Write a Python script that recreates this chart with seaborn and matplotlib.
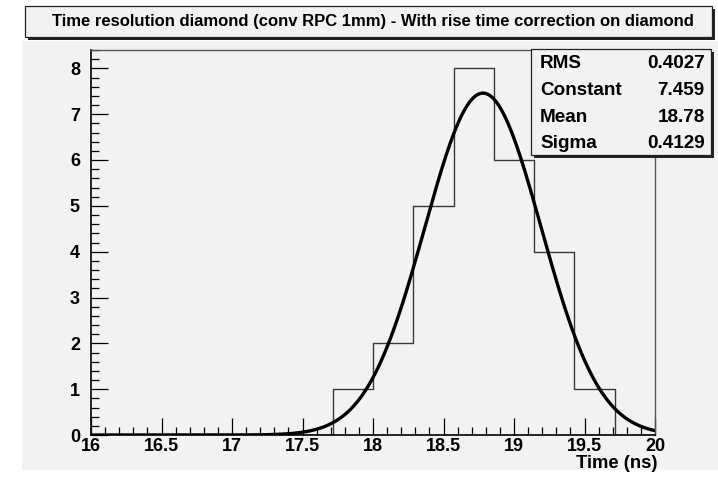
import numpy as np
import pandas as pd
import seaborn as sns
import matplotlib.pyplot as plt
from matplotlib.patches import Rectangle
from matplotlib.ticker import MultipleLocator

# ---------------------------------------------------------------
# datos leidos del histograma (14 bins entre 16 y 20 ns)
# ---------------------------------------------------------------
n_bins = 14
x_range = (16, 20)
bin_counts = [0, 0, 0, 0, 0, 0, 1, 2, 5, 8, 6, 4, 1, 0]

# parametros del ajuste gaussiano (caja de estadisticas)
stat_names = ['RMS', 'Constant', 'Mean', 'Sigma']
stat_values = ['0.4027', '7.459', '18.78', '0.4129']
fit_const = 7.459
fit_mean = 18.78
fit_sigma = 0.4129

titulo = 'Time resolution diamond (conv RPC 1mm) - With rise time correction on diamond'
xlabel = 'Time (ns)'

sns.set_style('ticks')
plt.rcParams['font.family'] = ['Liberation Sans', 'DejaVu Sans']
plt.rcParams['font.weight'] = 'bold'
plt.rcParams['text.color'] = 'black'
plt.rcParams['xtick.color'] = 'black'
plt.rcParams['ytick.color'] = 'black'

W, H = 718, 482
fig = plt.figure(figsize=(W / 100, H / 100), dpi=100)
fig.patch.set_facecolor('white')

def px(x0, y0, x1, y1):
    # rectangulo en pixeles -> coordenadas de figura
    return (x0 / W, 1 - y1 / H, (x1 - x0) / W, (y1 - y0) / H)

def caja(x0, y0, x1, y1, sombra=3):
    r = px(x0 + sombra, y0 + sombra, x1 + sombra, y1 + sombra)
    fig.patches.append(Rectangle(r[:2], r[2], r[3], transform=fig.transFigure,
                                 facecolor='#222222', edgecolor='none', zorder=5))
    r = px(x0, y0, x1, y1)
    fig.patches.append(Rectangle(r[:2], r[2], r[3], transform=fig.transFigure,
                                 facecolor='#f2f2f2', edgecolor='#222222',
                                 linewidth=0.9, zorder=6))

# fondo gris del pad
r = px(22, 41, 718, 470)
fig.patches.append(Rectangle(r[:2], r[2], r[3], transform=fig.transFigure,
                             facecolor='#f2f2f2', edgecolor='none', zorder=-5))

ax = fig.add_axes(px(91, 50, 655, 435))
ax.set_facecolor('#f2f2f2')

edges = np.linspace(x_range[0], x_range[1], n_bins + 1)
centros = (edges[:-1] + edges[1:]) / 2
df = pd.DataFrame({'t': centros, 'n': np.array(bin_counts, dtype=float)})
sns.histplot(data=df, x='t', weights='n', bins=n_bins, binrange=x_range,
             element='step', fill=False, color='#3a3a3a', linewidth=1.0, ax=ax)

xs = np.linspace(16, 20, 400)
curva = pd.DataFrame({'t': xs,
                      'f': fit_const * np.exp(-0.5 * ((xs - fit_mean) / fit_sigma) ** 2)})
sns.lineplot(data=curva, x='t', y='f', color='black', linewidth=2.4, ax=ax)

ax.set_xlim(16, 20)
ax.set_ylim(0, 8.4)
ax.set_xlabel('')
ax.set_ylabel('')
ax.xaxis.set_minor_locator(MultipleLocator(0.1))
ax.yaxis.set_major_locator(MultipleLocator(1))
ax.yaxis.set_minor_locator(MultipleLocator(0.2))
ax.set_xticks(np.arange(16, 20.01, 0.5))
ax.set_xticklabels(['16', '16.5', '17', '17.5', '18', '18.5', '19', '19.5', '20'])
ax.tick_params(which='major', direction='in', length=12, width=0.9, color='black',
               labelsize=13, labelcolor='black')
ax.tick_params(which='minor', direction='in', length=6, width=0.9, color='black')
ax.tick_params(axis='x', which='both', pad=2)
ax.tick_params(axis='y', which='both', pad=8)
for lab in ax.get_xticklabels() + ax.get_yticklabels():
    lab.set_fontweight('bold')

for lado in ['left', 'bottom']:
    ax.spines[lado].set_color('black')
    ax.spines[lado].set_linewidth(1.2)
for lado in ['right', 'top']:
    ax.spines[lado].set_visible(True)
    ax.spines[lado].set_color('#555555')
    ax.spines[lado].set_linewidth(1.0)

fig.text(658 / W, 1 - 464 / H, xlabel, ha='right', va='center',
         fontsize=13.3, fontweight='bold')

# caja del titulo con sombra
x0, y0, x1, y1 = 25, 6, 712, 37
caja(x0, y0, x1, y1)
fig.text(373 / W, 1 - (y0 + y1) / 2 / H, titulo, ha='center', va='center',
         fontsize=12, fontweight='bold', zorder=7)

# caja de estadisticas
caja(531, 49, 711, 155)
for i, (nombre, valor) in enumerate(zip(stat_names, stat_values)):
    yy = 1 - (64 + i * 26.5) / H
    fig.text(540 / W, yy, nombre, ha='left', va='center', fontsize=13.6,
             fontweight='bold', zorder=7)
    fig.text(705 / W, yy, valor, ha='right', va='center', fontsize=13.6,
             fontweight='bold', zorder=7)

fig.savefig('out.png', dpi=100)
